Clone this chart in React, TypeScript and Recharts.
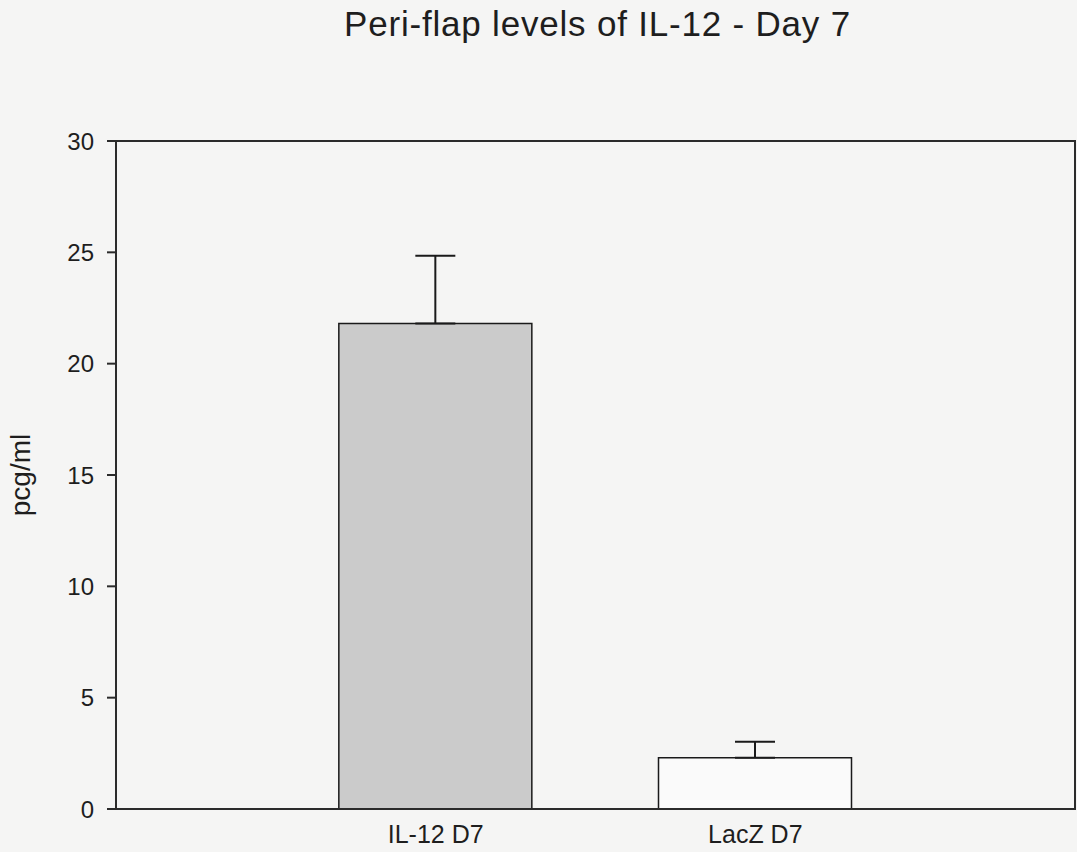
import { BarChart, Bar, XAxis, YAxis, ErrorBar, Label, ReferenceArea } from 'recharts';

// Peri-flap IL-12 concentration, day 7
const groups = ['IL-12 D7', 'LacZ D7'];
const means = [21.8, 2.3];
const upperErr = [3.05, 0.72];
const fills = ['#cbcbcb', '#fafafa'];
const yTicks = [0, 5, 10, 15, 20, 25, 30];

// groups sit at 1 and 2 on a 0..3 slot axis, so the frame spans the full plot
const slots = groups.map((_, i) => i + 1);

const data = groups.map((name, i) => ({
  name,
  slot: slots[i],
  value: means[i],
  err: [0, upperErr[i]],
  fill: fills[i]
}));

const font = '"Liberation Sans", Arial, sans-serif';
const axisColor = '#2b2b2b';
const textColor = '#1e1e1e';

export default function App() {
  return (
    <div style={{ position: 'absolute', left: 0, top: 0, width: 1077, height: 852, background: '#f5f5f4', fontFamily: font }}>
      <div
        style={{
          position: 'absolute',
          left: 0,
          top: 4,
          width: 1195,
          textAlign: 'center',
          fontSize: 35,
          letterSpacing: 0.8,
          color: textColor
        }}
      >
        Peri-flap levels of IL-12 - Day 7
      </div>
      <BarChart
        width={1077}
        height={852}
        data={data}
        margin={{ top: 141, right: 2, bottom: 0, left: 0 }}
        barSize={193}
      >
        {/* frame around the plot area */}
        <ReferenceArea x1={0} x2={3} y1={0} y2={30} fill="none" stroke={axisColor} strokeWidth={2} />
        <XAxis
          dataKey="slot"
          type="number"
          domain={[0, 3]}
          ticks={slots}
          tickFormatter={(v: number) => groups[v - 1]}
          height={43}
          tickLine={false}
          axisLine={{ stroke: axisColor, strokeWidth: 2 }}
          tick={{ fill: textColor, fontSize: 25, fontFamily: font }}
          tickMargin={10}
        />
        <YAxis
          width={116}
          domain={[0, 30]}
          ticks={yTicks}
          tickSize={9}
          tickMargin={13}
          tickLine={{ stroke: axisColor, strokeWidth: 2 }}
          axisLine={{ stroke: axisColor, strokeWidth: 2 }}
          tick={{ fill: textColor, fontSize: 24, fontFamily: font }}
        >
          <Label
            value="pcg/ml"
            angle={-90}
            position="insideLeft"
            offset={20}
            style={{ fill: textColor, fontSize: 28, fontFamily: font, textAnchor: 'middle' }}
          />
        </YAxis>
        <Bar dataKey="value" stroke="#1a1a1a" strokeWidth={1.5} isAnimationActive={false}>
          <ErrorBar dataKey="err" width={20} stroke="#1a1a1a" strokeWidth={2} direction="y" />
        </Bar>
      </BarChart>
    </div>
  );
}
